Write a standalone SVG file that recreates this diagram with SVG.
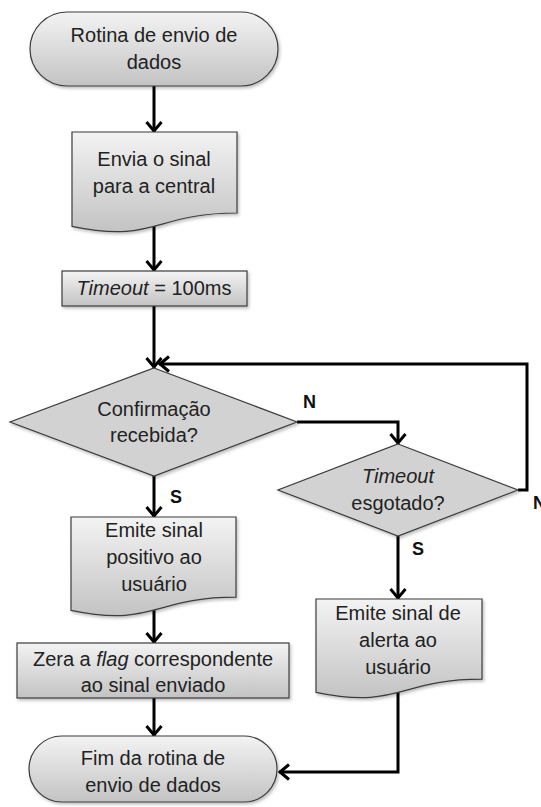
<svg xmlns="http://www.w3.org/2000/svg" width="541" height="807" viewBox="0 0 541 807">
<defs>
<linearGradient id="g" x1="0" y1="0" x2="0" y2="1">
<stop offset="0" stop-color="#f3f3f3"/>
<stop offset="1" stop-color="#c3c3c3"/>
</linearGradient>
<filter id="sh" x="-10%" y="-10%" width="125%" height="130%">
<feDropShadow dx="1.5" dy="2" stdDeviation="1.5" flood-color="#000" flood-opacity="0.25"/>
</filter>
<marker id="ah" markerUnits="userSpaceOnUse" viewBox="-13 -10 16 20" refX="0" refY="0" markerWidth="16" markerHeight="20" orient="auto">
<path d="M-10,-7.5 L-1,0 L-10,7.5" fill="none" stroke="#000" stroke-width="3"/>
</marker>
</defs>
<style>
.shape{fill:url(#g);stroke:#3c3c3c;stroke-width:1.2;filter:url(#sh)}
.dia{fill:#d2d2d2;stroke:#3c3c3c;stroke-width:1.2;filter:url(#sh)}
.t{font-family:"Liberation Sans",Arial,sans-serif;font-size:20px;fill:#222;text-anchor:middle}
.lbl{font-family:"Liberation Sans",Arial,sans-serif;font-size:18px;font-weight:bold;fill:#111}
.c{fill:none;stroke:#000;stroke-width:3;stroke-linejoin:miter}
.a{marker-end:url(#ah)}
</style>

<g id="connectors">
<path class="c a" d="M154,86 V132"/>
<path class="c a" d="M154,226 V271"/>
<path class="c a" d="M154,306 V368"/>
<path class="c a" d="M297,422 H398 V444"/>
<path class="c a" d="M518,490 H527 V364 H159"/>
<path class="c a" d="M154,476 V517"/>
<path class="c a" d="M398,536 V599"/>
<path class="c a" d="M154,610 V643"/>
<path class="c a" d="M154,698 V736"/>
<path class="c a" d="M398,692 V772 H279"/>
<text class="lbl" x="303" y="408">N</text>
<text class="lbl" x="533" y="509">N</text>
<text class="lbl" x="170" y="503">S</text>
<text class="lbl" x="412" y="555">S</text>
</g>

<g id="start">
<rect class="shape" x="30" y="12" width="248" height="74" rx="37" ry="37"/>
<text class="t" x="154" y="42">Rotina de envio de</text>
<text class="t" x="154" y="69">dados</text>
</g>

<g id="envia">
<path class="shape" d="M72,132 H237 V213 C154.5,213 154.5,243.8 72,226.3 Z"/>
<text class="t" x="154" y="166">Envia o sinal</text>
<text class="t" x="154" y="193">para a central</text>
</g>

<g id="timeout">
<rect class="shape" x="62" y="271" width="185" height="35"/>
<text class="t" x="154" y="295"><tspan font-style="italic">Timeout</tspan> = 100ms</text>
</g>

<g id="confirmacao">
<polygon class="dia" points="154,368 297,422 154,476 10,422"/>
<text class="t" x="154" y="416">Confirmação</text>
<text class="t" x="154" y="442">recebida?</text>
</g>

<g id="esgotado">
<polygon class="dia" points="398,444 518,490 398,536 278,490"/>
<text class="t" x="398" y="483" font-style="italic">Timeout</text>
<text class="t" x="398" y="510">esgotado?</text>
</g>

<g id="positivo">
<path class="shape" d="M71,517 H236 V597.2 C153.5,597.2 153.5,627.7 71,610.4 Z"/>
<text class="t" x="154" y="537">Emite sinal</text>
<text class="t" x="154" y="564">positivo ao</text>
<text class="t" x="154" y="591">usuário</text>
</g>

<g id="alerta">
<path class="shape" d="M316,599 H482 V679.2 C399,679.2 399,709.7 316,692.4 Z"/>
<text class="t" x="398" y="620">Emite sinal de</text>
<text class="t" x="398" y="647">alerta ao</text>
<text class="t" x="398" y="674">usuário</text>
</g>

<g id="zera">
<rect class="shape" x="17" y="643" width="272" height="55"/>
<text class="t" x="153" y="666">Zera a <tspan font-style="italic">flag</tspan> correspondente</text>
<text class="t" x="153" y="692">ao sinal enviado</text>
</g>

<g id="fim">
<rect class="shape" x="29" y="736" width="248" height="66" rx="33" ry="33"/>
<text class="t" x="153" y="765">Fim da rotina de</text>
<text class="t" x="153" y="792">envio de dados</text>
</g>
</svg>
